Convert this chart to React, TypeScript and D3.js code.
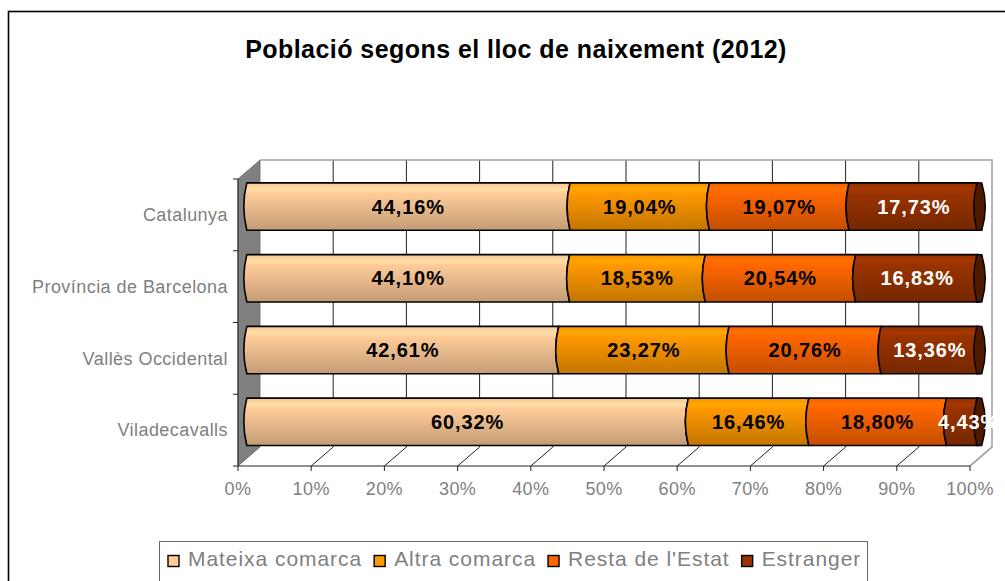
import React, { useEffect, useRef } from 'react';
import * as d3 from 'd3';

const categories = ['Catalunya', 'Província de Barcelona', 'Vallès Occidental', 'Viladecavalls'];
const seriesNames = ['Mateixa comarca', 'Altra comarca', "Resta de l'Estat", 'Estranger'];
const mateixaComarca = [44.16, 44.1, 42.61, 60.32];
const altraComarca = [19.04, 18.53, 23.27, 16.46];
const restaEstat = [19.07, 20.54, 20.76, 18.8];
const estranger = [17.73, 16.83, 13.36, 4.43];
const xTicks = [0, 10, 20, 30, 40, 50, 60, 70, 80, 90, 100];
const colors = ['#ffcc99', '#ff9900', '#ff6600', '#993300'];
const labelColors = ['#000', '#000', '#000', '#fff'];

const fmt = (v: number) => v.toFixed(2).replace('.', ',') + '%';

const App = () => {
  const ref = useRef<SVGSVGElement>(null);

  useEffect(() => {
    if (!ref.current) return;
    const svg = d3.select(ref.current);
    svg.selectAll('*').remove();

    const W = 1005;
    const font = 'Arial, "Liberation Sans", sans-serif';
    const grey = '#808080';

    // plot geometry (front plane + depth offset)
    const x = d3.scaleLinear().domain([0, 100]).range([238, 970]);
    const y = d3.scaleBand().domain(categories).range([179, 466]).paddingInner(0.34).paddingOuter(0.17);
    const dx = 22;
    const dy = -19;
    const bdx = dx * 0.4;
    const bdy = dy * 0.44;
    const top = 179;
    const bottom = 466;

    const defs = svg.append('defs');
    colors.forEach((c, i) => {
      const g = defs.append('linearGradient').attr('id', 'grad' + i)
        .attr('x1', 0).attr('y1', 0).attr('x2', 0).attr('y2', 1);
      const base = d3.color(c)!;
      g.append('stop').attr('offset', '0%').attr('stop-color', base.darker(0.1).formatHex());
      g.append('stop').attr('offset', '14%').attr('stop-color', base.brighter(0.25).formatHex());
      g.append('stop').attr('offset', '22%').attr('stop-color', base.formatHex());
      g.append('stop').attr('offset', '100%').attr('stop-color', base.darker(0.75).formatHex());
    });
    defs.append('clipPath').attr('id', 'plotClip')
      .append('rect').attr('x', 230).attr('y', 150).attr('width', 993 - 230).attr('height', 320);

    // outer frame
    svg.append('rect').attr('x', 8.5).attr('y', 11.5).attr('width', W).attr('height', 600)
      .attr('fill', '#fff').attr('stroke', '#000').attr('stroke-width', 1.6);

    // title
    svg.append('text').attr('x', 516).attr('y', 58).attr('text-anchor', 'middle')
      .attr('font-family', font).attr('font-weight', 'bold').attr('font-size', 25)
      .attr('letter-spacing', 0.45).attr('fill', '#000')
      .text('Població segons el lloc de naixement (2012)');

    // back wall
    svg.append('rect').attr('x', x(0) + dx).attr('y', top + dy)
      .attr('width', x(100) - x(0)).attr('height', bottom - top).attr('fill', '#fff');
    svg.append('g').selectAll('line').data(xTicks.slice(1, -1)).join('line')
      .attr('x1', d => x(d) + dx).attr('x2', d => x(d) + dx)
      .attr('y1', top + dy).attr('y2', bottom + dy)
      .attr('stroke', '#222').attr('stroke-width', 1);
    svg.append('path')
      .attr('d', `M${x(0) + dx},${top + dy}H${x(100) + dx}V${bottom + dy}L${x(100)},${bottom}`)
      .attr('fill', 'none').attr('stroke', '#a0a0a0').attr('stroke-width', 1.5);

    // left wall
    svg.append('path')
      .attr('d', `M${x(0)},${top}L${x(0) + dx},${top + dy}L${x(0) + dx},${bottom + dy}L${x(0)},${bottom}Z`)
      .attr('fill', '#808080').attr('stroke', '#666').attr('stroke-width', 0.8);

    // floor grid
    svg.append('g').selectAll('line').data(xTicks.slice(1)).join('line')
      .attr('x1', d => x(d)).attr('y1', bottom)
      .attr('x2', d => x(d) + dx).attr('y2', bottom + dy)
      .attr('stroke', d => (d === 100 ? '#a0a0a0' : '#222')).attr('stroke-width', d => (d === 100 ? 1.5 : 1));

    // axes lines and ticks
    svg.append('line').attr('x1', x(0)).attr('x2', x(100)).attr('y1', bottom).attr('y2', bottom)
      .attr('stroke', '#222').attr('stroke-width', 1);
    svg.append('line').attr('x1', x(0)).attr('x2', x(0)).attr('y1', top).attr('y2', bottom)
      .attr('stroke', '#222').attr('stroke-width', 1);
    svg.append('g').selectAll('line').data(xTicks).join('line')
      .attr('x1', d => x(d)).attr('x2', d => x(d)).attr('y1', bottom).attr('y2', bottom + 5)
      .attr('stroke', '#222');
    const catEdges = [top, ...categories.slice(1).map(c => y(c)! - y.step() * y.paddingInner() / 2), bottom];
    svg.append('g').selectAll('line').data(catEdges).join('line')
      .attr('x1', x(0) - 5).attr('x2', x(0)).attr('y1', d => d).attr('y2', d => d)
      .attr('stroke', '#222');

    svg.append('g').selectAll('text').data(xTicks).join('text')
      .attr('x', d => x(d)).attr('y', 495).attr('text-anchor', 'middle')
      .attr('font-family', font).attr('font-size', 18).attr('letter-spacing', 0.4).attr('fill', grey)
      .text(d => d + '%');

    svg.append('g').selectAll('text').data(categories).join('text')
      .attr('x', 228).attr('y', d => y(d)! + y.bandwidth() / 2).attr('dy', '0.35em')
      .attr('text-anchor', 'end')
      .attr('font-family', font).attr('font-size', 18).attr('letter-spacing', 0.45).attr('fill', grey)
      .text(d => d);

    // bars
    const values = [mateixaComarca, altraComarca, restaEstat, estranger];
    const bh = y.bandwidth();
    const b = 3;
    const segPath = (x0: number, x1: number, y0: number) => {
      const y1 = y0 + bh;
      const ym = y0 + bh / 2;
      return `M${x0},${y0}L${x1},${y0}Q${x1 - 2 * b},${ym} ${x1},${y1}L${x0},${y1}Q${x0 - 2 * b},${ym} ${x0},${y0}Z`;
    };
    const bars = svg.append('g');
    const labels = svg.append('g').attr('clip-path', 'url(#plotClip)');
    categories.forEach((cat, ci) => {
      const y0 = y(cat)! + bdy;
      let acc = 0;
      const segs = values.map((vals, si) => {
        const s = { si, start: acc, end: acc + vals[ci], v: vals[ci] };
        acc += vals[ci];
        return s;
      });
      segs.forEach(s => {
        bars.append('path')
          .attr('d', segPath(x(s.start) + bdx, x(Math.min(s.end, 100)) + bdx, y0))
          .attr('fill', `url(#grad${s.si})`).attr('stroke', '#000').attr('stroke-width', 1.6)
          .attr('stroke-linejoin', 'round');
      });
      // end cap of the tube
      const xe = x(100) + bdx - 2;
      const ym = y0 + bh / 2;
      bars.append('path')
        .attr('d', `M${xe},${y0}L${xe + 5},${y0}Q${xe + 12},${ym} ${xe + 5},${y0 + bh}L${xe},${y0 + bh}Q${xe - 6},${ym} ${xe},${y0}Z`)
        .attr('fill', '#4d1a00').attr('stroke', '#000').attr('stroke-width', 1.4);
      segs.forEach(s => {
        labels.append('text')
          .attr('x', (x(s.start) + x(s.end)) / 2 + bdx + (s.v < 6 ? 6 : 0))
          .attr('y', ym).attr('dy', '0.36em').attr('text-anchor', 'middle')
          .attr('font-family', font).attr('font-weight', 'bold').attr('font-size', 20)
          .attr('letter-spacing', 0.9).attr('fill', labelColors[s.si])
          .text(fmt(s.v));
      });
    });

    // legend
    const legend = svg.append('g');
    legend.append('rect').attr('x', 159.5).attr('y', 541.5).attr('width', 708).attr('height', 60)
      .attr('fill', '#fff').attr('stroke', '#666').attr('stroke-width', 1);
    let lx = 168;
    seriesNames.forEach((name, i) => {
      legend.append('rect').attr('x', lx).attr('y', 555.5).attr('width', 11).attr('height', 11)
        .attr('fill', colors[i]).attr('stroke', '#000').attr('stroke-width', 1.4);
      const t = legend.append('text').attr('x', lx + 20).attr('y', 566)
        .attr('font-family', font).attr('font-size', 21).attr('letter-spacing', 0.95).attr('fill', grey)
        .text(name);
      const w = (t.node() as SVGTextElement).getComputedTextLength();
      lx += 20 + w + 12;
    });
  }, []);

  return (
    <svg ref={ref} width={1005} height={581}
      style={{ position: 'absolute', left: 0, top: 0, background: '#fff' }} />
  );
};

export default App;
